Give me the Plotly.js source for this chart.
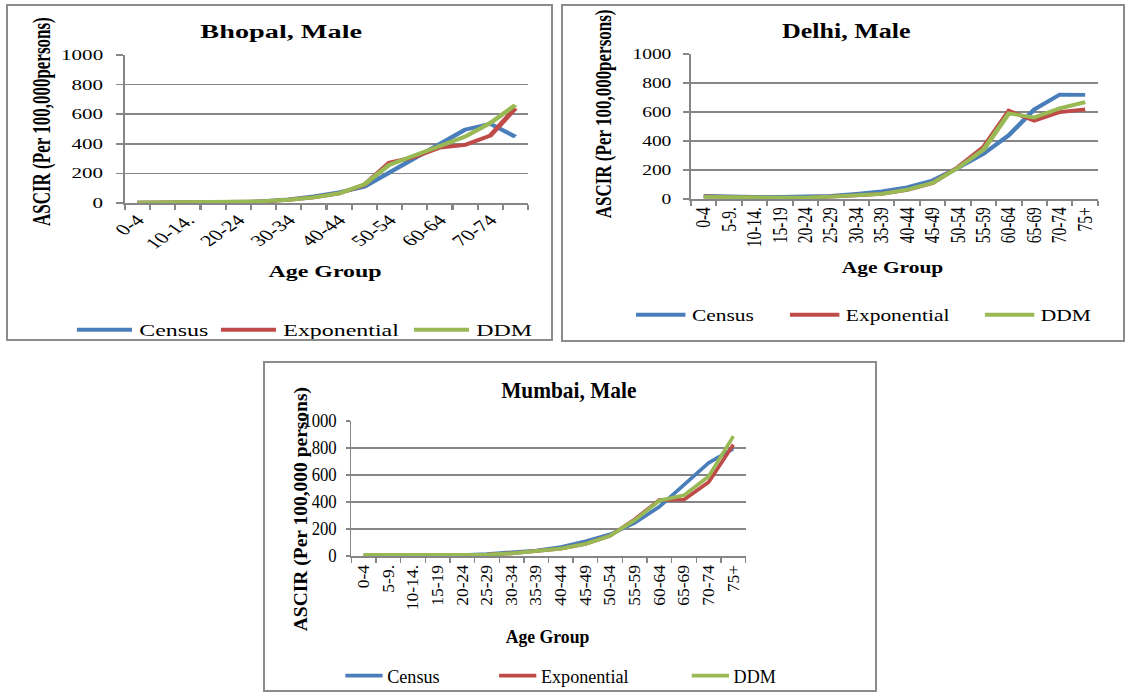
<!DOCTYPE html>
<html><head><meta charset="utf-8">
<script src="https://cdn.plot.ly/plotly-3.0.1.min.js"></script>
<style>
html,body{margin:0;padding:0;background:#fff;width:1128px;height:694px;overflow:hidden;}
.panel{position:absolute;transform-origin:0 0;}
.frame{position:absolute;box-sizing:border-box;border:2px solid #8c8c8c;pointer-events:none;}
</style></head><body>
<div id="bhopal" class="panel"></div>
<div id="delhi" class="panel"></div>
<div id="mumbai" class="panel"></div>
<script>
// ---- data ----
const ageGroups = ["0-4","5-9.","10-14.","15-19","20-24","25-29","30-34","35-39","40-44","45-49","50-54","55-59","60-64","65-69","70-74","75+"];
const seriesNames = ["Census","Exponential","DDM"];
const seriesColors = ["#4A7EBB","#BE4B48","#98B954"];
const yTickVals = [0,200,400,600,800,1000];

const bhopalCensus = [2,3,3,3,4,12,25,45,72,110,205,300,395,495,535,448];
const bhopalExponential = [2,3,3,3,4,10,22,38,65,122,272,310,375,392,455,640];
const bhopalDDM = [3,4,4,4,5,12,22,38,65,125,258,320,385,448,540,662];

const delhiCensus = [22,16,14,14,15,22,36,52,80,128,215,312,440,618,720,718];
const delhiExponential = [18,12,8,5,8,15,25,36,62,110,220,358,608,540,600,618];
const delhiDDM = [14,12,10,9,10,16,24,36,64,111,215,340,590,562,625,668];

const mumbaiCensus = [5,5,5,5,7,14,24,40,66,108,160,245,365,530,690,795];
const mumbaiExponential = [5,5,5,5,5,10,20,35,55,90,150,272,415,418,548,825];
const mumbaiDDM = [8,8,8,8,8,10,20,35,55,90,150,265,410,450,590,887];

const titles = {bhopal:"Bhopal, Male", delhi:"Delhi, Male", mumbai:"Mumbai, Male"};
const yTitles = {bhopal:"ASCIR (Per 100,000persons)", delhi:"ASCIR (Per 100,000persons)", mumbai:"ASCIR (Per 100,000 persons)"};
const xTitle = "Age Group";

// ---- layout configs (pixel geometry of the page) ----
const FONT = "Liberation Serif, Times New Roman, serif";
const cfgs = {
  bhopal: {box:{x:6,y:4,w:547,h:337}, s:1.45, plot:{x0:125,x1:528,y0:55,y1:203},
    title:{x:281,y:31,size:19.5}, ytitle:{x:41,y:122,size:17}, xtitle:{x:325,y:271,size:16.5},
    yTickSize:14.5, xTickSize:15.5, angle:-45, step:2, legY:330, legX:[77,221,414], legSize:16.5, itemW:38, lw:3.8},
  delhi: {box:{x:561,y:4,w:564,h:338}, s:1.3, plot:{x0:691,x1:1098,y0:54,y1:199},
    title:{x:846,y:31,size:20}, ytitle:{x:603,y:114,size:17}, xtitle:{x:893,y:267,size:16.5},
    yTickSize:15, xTickSize:15.5, angle:-90, step:1, legY:315, legX:[636,790,985], legSize:16.5, itemW:38, lw:3.8},
  mumbai: {box:{x:263,y:361,w:614,h:331}, s:0.93, plot:{x0:351,x1:746,y0:421,y1:556},
    title:{x:569,y:390,size:23}, ytitle:{x:301,y:509,size:19.5}, xtitle:{x:548,y:636,size:19},
    yTickSize:18, xTickSize:17.5, angle:-90, step:1, legY:676, legX:[345,499,692], legSize:19.5, itemW:40, lw:3.8}
};

function drawPanel(id, series) {
  const cfg = cfgs[id];
  const el = document.getElementById(id);
  const s = cfg.s, b = cfg.box, p = cfg.plot;
  const W = b.w / s, H = b.h;
  el.style.left = b.x + 'px'; el.style.top = b.y + 'px';
  el.style.width = W + 'px'; el.style.height = H + 'px';
  el.style.transform = 'scaleX(' + s + ')';
  const fr = document.createElement('div');
  fr.className = 'frame';
  fr.style.left = b.x + 'px'; fr.style.top = b.y + 'px';
  fr.style.width = b.w + 'px'; fr.style.height = b.h + 'px';
  document.body.appendChild(fr);

  const margin = {l:(p.x0-b.x)/s, r:(b.x+b.w-p.x1)/s, t:p.y0-b.y, b:b.y+b.h-p.y1, pad:0, autoexpand:false};
  const px = gx => (gx - p.x0) / (p.x1 - p.x0);
  const py = gy => (p.y1 - gy) / (p.y1 - p.y0);
  const idx = ageGroups.map((_, i) => i);
  const tickIdx = idx.filter(i => i % cfg.step === 0);

  const traces = series.map((vals, k) => ({
    x: idx, y: vals, type: 'scatter', mode: 'lines', name: seriesNames[k],
    line: {color: seriesColors[k], width: cfg.lw},
    legend: k === 0 ? 'legend' : 'legend' + (k + 1), hoverinfo: 'skip'
  }));

  const layout = {
    width: W, height: H, margin: margin,
    paper_bgcolor: '#fff', plot_bgcolor: '#fff',
    font: {family: FONT, color: '#000'},
    showlegend: true,
    xaxis: {
      type: 'linear', range: [-0.5, ageGroups.length - 0.5], fixedrange: true, automargin: false,
      tickmode: 'array', tickvals: tickIdx, ticktext: tickIdx.map(i => ageGroups[i]),
      ticks: '', tickangle: cfg.angle, tickfont: {family: FONT, size: cfg.xTickSize, color: '#000'},
      showgrid: false, zeroline: false, showline: true, linecolor: '#868686', linewidth: 2,
      minor: {tickmode: 'linear', tick0: -0.5, dtick: 1, ticks: 'outside', ticklen: 5, tickwidth: 1.5, tickcolor: '#868686', showgrid: false}
    },
    yaxis: {
      range: [0, 1000], fixedrange: true, automargin: false, tickmode: 'array', tickvals: yTickVals,
      ticks: 'outside', ticklen: 4.5, tickwidth: 1.5, tickcolor: '#868686',
      tickfont: {family: FONT, size: cfg.yTickSize, color: '#000'}, ticklabelstandoff: 6,
      showgrid: true, gridcolor: '#868686', gridwidth: 1.6, zeroline: false,
      showline: true, linecolor: '#868686', linewidth: 1.6
    },
    annotations: [
      {text: titles[id], xref: 'paper', yref: 'paper', x: px(cfg.title.x), y: py(cfg.title.y), xanchor: 'center', yanchor: 'middle', showarrow: false,
       font: {family: FONT, size: cfg.title.size, weight: 'bold', color: '#000'}},
      {text: yTitles[id], xref: 'paper', yref: 'paper', x: px(cfg.ytitle.x), y: py(cfg.ytitle.y), xanchor: 'center', yanchor: 'middle', showarrow: false, textangle: -90,
       font: {family: FONT, size: cfg.ytitle.size, weight: 'bold', color: '#000'}},
      {text: xTitle, xref: 'paper', yref: 'paper', x: px(cfg.xtitle.x), y: py(cfg.xtitle.y), xanchor: 'center', yanchor: 'middle', showarrow: false,
       font: {family: FONT, size: cfg.xtitle.size, weight: 'bold', color: '#000'}}
    ]
  };
  cfg.legX.forEach((gx, k) => {
    const key = k === 0 ? 'legend' : 'legend' + (k + 1);
    layout[key] = {
      x: px(gx - 5 * s), y: py(cfg.legY), xanchor: 'left', yanchor: 'middle', orientation: 'h',
      itemwidth: cfg.itemW,
      bgcolor: 'rgba(0,0,0,0)', borderwidth: 0, font: {family: FONT, size: cfg.legSize, color: '#000'}
    };
  });
  Plotly.newPlot(el, traces, layout, {staticPlot: true, displayModeBar: false});
}

drawPanel('bhopal', [bhopalCensus, bhopalExponential, bhopalDDM]);
drawPanel('delhi', [delhiCensus, delhiExponential, delhiDDM]);
drawPanel('mumbai', [mumbaiCensus, mumbaiExponential, mumbaiDDM]);
</script>
</body></html>
